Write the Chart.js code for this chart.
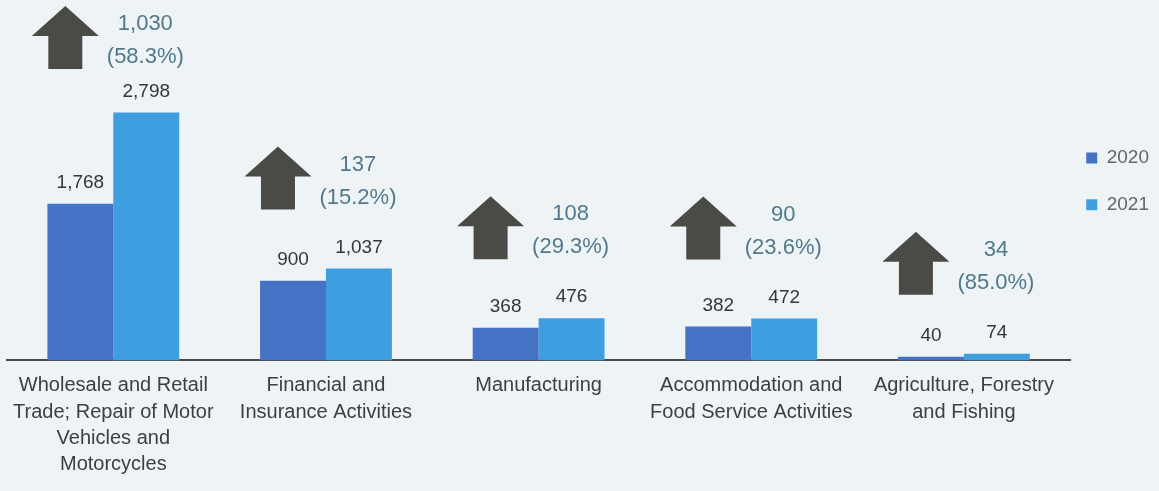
<!DOCTYPE html>
<html>
<head>
<meta charset="utf-8">
<script src="https://cdn.jsdelivr.net/npm/chart.js@4"></script>
<style>
  html, body { margin: 0; padding: 0; background: #eef3f6; }
  #wrap { width: 1159px; height: 491px; position: relative; }
</style>
</head>
<body>
<div id="wrap"><canvas id="c" width="1159" height="491"></canvas></div>
<script>
const categories = [
  ["Wholesale and Retail", "Trade; Repair of Motor", "Vehicles and", "Motorcycles"],
  ["Financial and", "Insurance Activities"],
  ["Manufacturing"],
  ["Accommodation and", "Food Service Activities"],
  ["Agriculture, Forestry", "and Fishing"]
];
const seriesNames = ["2020", "2021"];
const values2020 = [1768, 900, 368, 382, 40];
const values2021 = [2798, 1037, 476, 472, 74];
const changeValues = [1030, 137, 108, 90, 34];
const changePercents = [58.3, 15.2, 29.3, 23.6, 85.0];

const FONT = '"Liberation Sans", Arial, sans-serif';
const fmt = v => v.toLocaleString('en-US');

const annotate = {
  id: 'annotate',
  afterDatasetsDraw(chart) {
    const { ctx, chartArea } = chart;
    const xs = chart.scales.x, ys = chart.scales.y;
    ctx.save();
    ctx.textAlign = 'center';
    ctx.textBaseline = 'middle';
    ctx.font = '19px ' + FONT;
    ctx.fillStyle = '#363636';
    chart.data.datasets.forEach((ds, i) => {
      chart.getDatasetMeta(i).data.forEach((bar, j) => {
        ctx.fillText(fmt(ds.data[j]), bar.x, bar.y - 21);
      });
    });
    const AW = 67, AH = 63, HH = 30, SW = 34;
    categories.forEach((c, j) => {
      const cx = xs.getPixelForValue(j);
      let top = ys.getPixelForValue(values2021[j]) - 59 - AH;
      if (top < chartArea.top) top = chartArea.top;
      const ax = cx - 48;
      ctx.fillStyle = '#4a4b47';
      ctx.beginPath();
      ctx.moveTo(ax, top);
      ctx.lineTo(ax + AW / 2, top + HH);
      ctx.lineTo(ax + SW / 2, top + HH);
      ctx.lineTo(ax + SW / 2, top + AH);
      ctx.lineTo(ax - SW / 2, top + AH);
      ctx.lineTo(ax - SW / 2, top + HH);
      ctx.lineTo(ax - AW / 2, top + HH);
      ctx.closePath();
      ctx.fill();
      ctx.fillStyle = '#52798a';
      ctx.font = '22px ' + FONT;
      ctx.fillText(fmt(changeValues[j]), cx + 32, top + 18);
      ctx.fillText('(' + changePercents[j].toFixed(1) + '%)', cx + 32, top + 51);
    });
    ctx.restore();
  }
};

new Chart(document.getElementById('c'), {
  type: 'bar',
  data: {
    labels: categories,
    datasets: [
      { label: seriesNames[0], data: values2020, backgroundColor: '#4472c4', categoryPercentage: 0.62, barPercentage: 1.0 },
      { label: seriesNames[1], data: values2021, backgroundColor: '#3f9ee0', categoryPercentage: 0.62, barPercentage: 1.0 }
    ]
  },
  options: {
    responsive: false,
    animation: false,
    layout: { padding: { top: 6, left: 7, right: 0, bottom: 1 } },
    plugins: {
      legend: {
        position: 'right',
        align: 'start',
        title: { display: true, text: '', font: { size: 12, lineHeight: 1.2 }, padding: { top: 112, bottom: 0 } },
        labels: {
          font: { family: FONT, size: 19, lineHeight: 1.63 },
          color: '#3b4048',
          boxWidth: 11,
          boxHeight: 11,
          padding: 16,
          generateLabels(chart) {
            return chart.data.datasets.map((ds, i) => ({
              text: [ds.label],
              fillStyle: ds.backgroundColor,
              strokeStyle: ds.backgroundColor,
              lineWidth: 0,
              hidden: false,
              datasetIndex: i
            }));
          }
        }
      },
      tooltip: { enabled: false }
    },
    scales: {
      x: {
        grid: { display: false, drawTicks: false },
        border: { display: true, color: '#4a4a4a', width: 2 },
        ticks: {
          font: { family: FONT, size: 20, lineHeight: 1.32 },
          color: '#3b4048',
          padding: 12,
          maxRotation: 0,
          minRotation: 0,
          autoSkip: false
        }
      },
      y: {
        display: false,
        min: 0,
        max: 4000
      }
    }
  },
  plugins: [annotate]
});
</script>
</body>
</html>
